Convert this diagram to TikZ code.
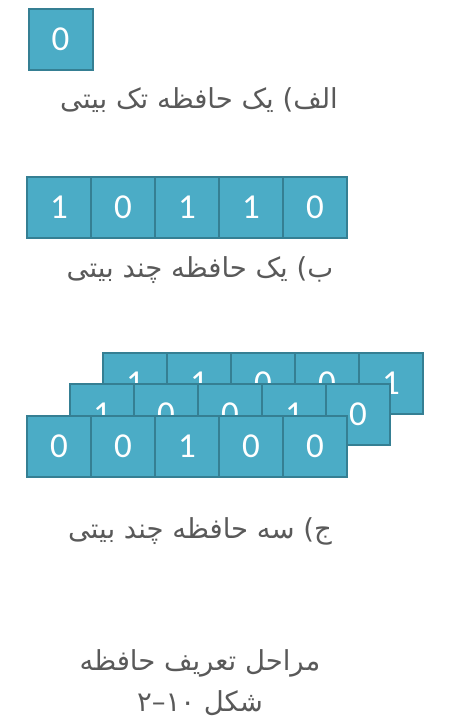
\documentclass[tikz,border=0pt]{standalone}
\usepackage{fontspec}
\TeXXeTstate=1
\newfontfamily\arabicfont[Script=Arabic]{DejaVu Sans}
\newfontfamily\digitfont{Carlito}
\definecolor{cellfill}{HTML}{4BACC6}
\definecolor{celledge}{HTML}{357F93}
\definecolor{captext}{HTML}{595959}
\tikzset{
  cell/.style={draw=celledge, fill=cellfill, line width=2pt, minimum width=64pt, minimum height=61pt,
    inner sep=0pt, text=white, font=\digitfont\fontsize{35}{35}\selectfont},
  caption/.style={text=captext, inner sep=0pt, font=\arabicfont\fontsize{27.5}{30}\selectfont, align=center}
}
\begin{document}
\begin{tikzpicture}[x=1pt,y=-1pt]
\useasboundingbox (0,0) rectangle (463,728);
% a
\node[cell] (a0) at (60.5,39.5) {0};
\node[caption] (capa) at (199,100) {\beginR الف) یک حافظه تک بیتی\endR};
% b
\foreach \d [count=\i from 0] in {1,0,1,1,0}
  \node[cell] (b\i) at (59+64*\i,207) {\d};
\node[caption] (capb) at (200,270) {\beginR ب) یک حافظه چند بیتی\endR};
% c
\foreach \d [count=\i from 0] in {1,1,0,0,1}
  \node[cell] (r\i) at (135+64*\i,383.5) {\d};
\foreach \d [count=\i from 0] in {1,0,0,1,0}
  \node[cell] (m\i) at (102+64*\i,414.5) {\d};
\foreach \d [count=\i from 0] in {0,0,1,0,0}
  \node[cell] (f\i) at (59+64*\i,446) {\d};
\node[caption] (capc) at (200,531) {\beginR ج) سه حافظه چند بیتی\endR};
% figure caption
\node[caption] (capd1) at (200,663) {\beginR مراحل تعریف حافظه\endR};
\node[caption] (capd2) at (200,703) {\beginR شکل ۱۰–۲\endR};
\end{tikzpicture}
\end{document}
